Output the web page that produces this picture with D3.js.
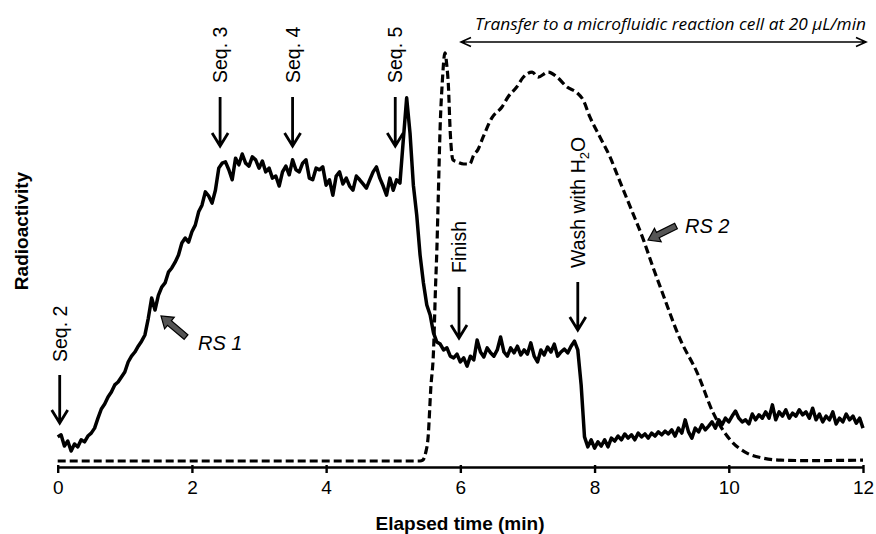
<!DOCTYPE html>
<html>
<head>
<meta charset="utf-8">
<script src="https://cdn.jsdelivr.net/npm/d3@7/dist/d3.min.js"></script>
<style>
  html, body { margin: 0; padding: 0; background: #fff; }
  svg { display: block; }
  text { font-family: "Liberation Sans", Arial, sans-serif; fill: #000; }
</style>
</head>
<body>
<svg id="chart" width="876" height="534"></svg>
<script>
// RS 1 trace (solid), sampled every 0.05 min from 0 to 12 min
const rs1Step = 0.05;
const rs1Values = [
  7.0, 7.5, 4.8, 6.0, 3.6, 5.3, 4.6, 6.3, 5.8, 7.2, 7.9, 9.1, 11.5, 13.7, 14.9, 16.6, 17.8, 19.5, 20.2, 21.4,
  22.6, 25.0, 26.4, 27.4, 28.8, 30.0, 31.5, 35.5, 40.4, 37.5, 41.0, 43.0, 44.0, 46.6, 47.6, 49.0, 50.7, 53.6, 54.8, 53.8,
  56.3, 57.9, 61.1, 62.7, 65.9, 64.9, 63.2, 66.3, 71.6, 72.8, 73.1, 71.2, 68.8, 74.0, 72.4, 75.0, 72.8, 72.1, 74.3, 73.6,
  71.6, 73.3, 70.7, 71.6, 69.2, 69.7, 67.3, 70.7, 72.1, 70.0, 73.6, 71.2, 70.7, 72.8, 73.6, 69.2, 68.8, 71.6, 71.2, 71.9,
  67.5, 68.8, 65.1, 69.7, 70.7, 67.8, 69.2, 67.3, 66.3, 69.7, 68.8, 67.8, 66.8, 68.8, 70.7, 71.9, 69.2, 67.3, 65.1, 69.2,
  66.3, 68.8, 68.0, 78.4, 88.5, 80.0, 67.5, 60.3, 50.7, 44.0, 38.7, 36.3, 32.0, 29.8, 29.3, 27.9, 28.4, 26.4, 26.0, 26.9,
  25.0, 26.0, 24.0, 26.4, 25.5, 30.3, 27.4, 26.2, 28.4, 27.2, 26.4, 27.9, 31.0, 27.4, 26.4, 28.4, 27.2, 28.8, 26.7, 27.9,
  26.9, 29.6, 26.4, 25.0, 27.9, 26.7, 28.6, 27.4, 29.3, 26.4, 27.4, 28.1, 27.2, 28.8, 30.0, 27.9, 19.5, 7.0, 4.6, 6.3,
  4.3, 5.8, 4.8, 6.3, 4.6, 6.7, 6.0, 7.2, 6.3, 7.7, 6.7, 7.5, 6.3, 7.9, 7.0, 7.7, 6.7, 7.9, 7.2, 8.2,
  7.5, 8.4, 7.7, 8.7, 7.2, 9.1, 7.9, 11.1, 8.2, 6.7, 9.1, 8.2, 9.9, 8.7, 9.6, 10.6, 9.1, 11.1, 9.9, 11.5,
  10.6, 12.0, 13.2, 11.5, 10.6, 11.1, 10.1, 12.5, 11.1, 12.3, 11.5, 13.0, 11.5, 14.7, 11.1, 13.0, 12.0, 13.5, 11.5, 12.7,
  12.0, 13.5, 12.3, 13.0, 11.5, 13.9, 11.1, 12.5, 10.6, 12.0, 11.1, 13.0, 10.1, 11.5, 10.6, 12.5, 11.1, 12.0, 10.3, 11.5,
  9.1
];

// RS 2 trace (dashed)
const rs2Times = [
  0, 5.40, 5.44, 5.48, 5.52, 5.56, 5.60, 5.63, 5.65, 5.67, 5.70, 5.73, 5.77, 5.80, 5.82, 5.85, 5.89, 5.95,
  6.05, 6.14, 6.20, 6.26, 6.34, 6.47, 6.62, 6.71, 6.84, 6.94, 7.07, 7.16, 7.31, 7.44, 7.59, 7.74, 7.83, 7.93,
  8.08, 8.23, 8.35, 8.43, 8.57, 8.73, 8.87, 8.98, 9.28, 9.53, 9.77, 10.02, 10.27, 10.51, 10.77, 11.20, 12.00
];
const rs2Values = [
  1.2, 1.2, 1.4, 3.0, 7.0, 18.8, 27.6, 43.0, 52.0, 64.0, 82.0, 92.0, 99.3, 96.0, 92.0, 80.0, 73.6, 73.1,
  72.6, 72.6, 74.8, 76.0, 79.1, 83.7, 86.3, 88.7, 91.1, 93.5, 94.7, 93.5, 94.7, 93.5, 91.1, 89.7, 88.0, 83.9,
  79.1, 74.3, 69.5, 66.3, 60.8, 54.3, 47.8, 43.0, 30.3, 22.4, 12.7, 6.3, 3.1, 1.9, 1.4, 1.3, 1.4
];

// x-axis ticks
const xTicks = [0, 2, 4, 6, 8, 10, 12];

// Process steps marked with arrows
const eventLabels = ["Seq. 2", "Seq. 3", "Seq. 4", "Seq. 5", "Finish", "Wash with H2O"];
const eventTimes  = [0.03, 2.42, 3.50, 5.03, 5.98, 7.75];

const svg = d3.select("#chart");

const x = d3.scaleLinear().domain([0, 12]).range([57.7, 863]);
const y = d3.scaleLinear().domain([0, 100]).range([466, 50]);

const rs1 = rs1Values.map((v, i) => ({ t: i * rs1Step, v }));
const rs2 = rs2Times.map((t, i) => ({ t, v: rs2Values[i] }));

// Traces
svg.append("path")
  .datum(rs2)
  .attr("fill", "none")
  .attr("stroke", "#000")
  .attr("stroke-width", 3.2)
  .attr("stroke-dasharray", "8,4")
  .attr("d", d3.line().x(d => x(d.t)).y(d => y(d.v)).curve(d3.curveMonotoneX));

svg.append("path")
  .datum(rs1)
  .attr("fill", "none")
  .attr("stroke", "#000")
  .attr("stroke-width", 3.5)
  .attr("stroke-linejoin", "round")
  .attr("d", d3.line().x(d => x(d.t)).y(d => y(d.v)));

// Bottom axis
const axis = svg.append("g")
  .attr("transform", "translate(0,467)")
  .call(d3.axisBottom(x).tickValues(xTicks).tickSizeInner(6).tickSizeOuter(0).tickPadding(8).tickFormat(d3.format("d")));
axis.select(".domain").attr("stroke", "#000").attr("stroke-width", 2.6);
axis.selectAll(".tick line").attr("stroke", "#000").attr("stroke-width", 2.4).attr("y1", -2);
axis.selectAll(".tick text")
  .attr("font-family", "Liberation Sans, Arial, sans-serif")
  .attr("font-size", 19)
  .attr("fill", "#000");

svg.append("text")
  .attr("x", 460).attr("y", 530)
  .attr("text-anchor", "middle")
  .attr("font-size", 19).attr("font-weight", "bold")
  .text("Elapsed time (min)");

svg.append("text")
  .attr("transform", "translate(28,231) rotate(-90)")
  .attr("text-anchor", "middle")
  .attr("font-size", 19).attr("font-weight", "bold")
  .text("Radioactivity");

// Down arrows with rotated labels above them
const arrowLayout = [
  { shaft: 375, tip: 423, textBottom: 362 },
  { shaft: 97, tip: 146, textBottom: 83 },
  { shaft: 97, tip: 146, textBottom: 83 },
  { shaft: 97, tip: 146, textBottom: 83 },
  { shaft: 287, tip: 338, textBottom: 273 },
  { shaft: 282, tip: 330, textBottom: 268 }
];

eventLabels.forEach((label, i) => {
  const ax = x(eventTimes[i]);
  const L = arrowLayout[i];
  svg.append("path")
    .attr("d", `M${ax},${L.shaft}V${L.tip - 1}M${ax - 8},${L.tip - 13}L${ax},${L.tip}L${ax + 8},${L.tip - 13}`)
    .attr("fill", "none").attr("stroke", "#000").attr("stroke-width", 2.8);
  const t = svg.append("text")
    .attr("transform", `translate(${ax + 7},${L.textBottom}) rotate(-90)`)
    .attr("font-size", 19.5);
  if (label.endsWith("H2O")) {
    t.append("tspan").text(label.slice(0, -2));
    t.append("tspan").attr("font-size", 13).attr("dy", 4).text("2");
    t.append("tspan").attr("dy", -4).text("O");
  } else {
    t.text(label);
  }
});

// Double-headed arrow for the transfer period
svg.append("path")
  .attr("d", "M461,42H866M471,37.5L461,42L471,46.5M856,37.5L866,42L856,46.5")
  .attr("fill", "none").attr("stroke", "#000").attr("stroke-width", 1.6);

svg.append("text")
  .attr("x", 475).attr("y", 30)
  .attr("font-style", "italic")
  .attr("font-size", 16.5)
  .attr("textLength", 391)
  .attr("lengthAdjust", "spacingAndGlyphs")
  .style("font-family", "'Open Sans', sans-serif")
  .text("Transfer to a microfluidic reaction cell at 20 \u03bcL/min");

// Block arrows pointing to each trace
function blockArrow(x0, y0, x1, y1) {
  const dx = x1 - x0, dy = y1 - y0;
  const len = Math.hypot(dx, dy);
  const ang = Math.atan2(dy, dx) * 180 / Math.PI;
  const hl = 11, hw = 7.5, sw = 3;
  svg.append("path")
    .attr("transform", `translate(${x0},${y0}) rotate(${ang})`)
    .attr("d", `M0,${-sw}L${len - hl},${-sw}L${len - hl},${-hw}L${len},0L${len - hl},${hw}L${len - hl},${sw}L0,${sw}Z`)
    .attr("fill", "#555").attr("stroke", "#000").attr("stroke-width", 1.2);
}
blockArrow(186, 337, 161, 316);
blockArrow(676, 226, 648, 240);

svg.append("text")
  .attr("x", 198).attr("y", 350)
  .attr("font-size", 20).attr("font-style", "italic")
  .text("RS 1");
svg.append("text")
  .attr("x", 685).attr("y", 233)
  .attr("font-size", 20).attr("font-style", "italic")
  .text("RS 2");
</script>
</body>
</html>
